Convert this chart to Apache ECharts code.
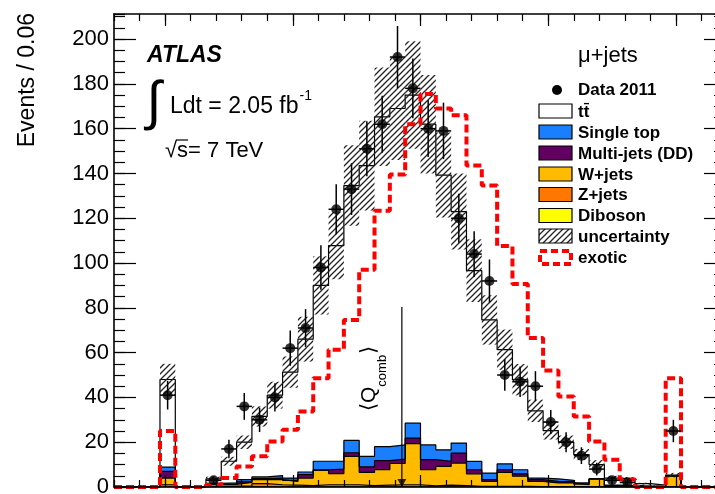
<!DOCTYPE html>
<html><head><meta charset="utf-8">
<script src="https://cdn.jsdelivr.net/npm/echarts@6/dist/echarts.min.js"></script>
<style>html,body{margin:0;padding:0;background:#fff}#c{width:715px;height:494px}</style>
</head><body><div id="c"></div>
<script>
// ---- axis / binning ----
const xMin = -1.2, xMax = 1.2, binWidth = 0.06, nBins = 40;
const yMin = 0, yMax = 211.2;
const yTickLabels = [0, 20, 40, 60, 80, 100, 120, 140, 160, 180, 200];
const xMajorTicks = [-1, -0.5, 0, 0.5, 1];
const yTitle = 'Events / 0.06';

// ---- data (events per bin, 40 bins from -1.2 to 1.2) ----
const data2011 = [0,0,0,41,0,0,3,17,36,30,40,62,71,98,124,133,151,162,192,178,160,159,120,104,92,50,47,45,29,20,14,8,3,2,0,0,25,0,0,0];
const ttbar     = [0,0,0,39.1,0,0,2.0,9.6,16.7,27,35.9,47.3,59.3,78.5,96.3,113.8,129.8,147.3,150.2,146.5,143.2,122.7,103.4,85.2,68.4,51,40.2,30,21.6,17,12.7,6.4,3.2,2.9,1.1,0.6,0.2,0,0,0];
const singleTop = [0,0,0,1.9,0,0,0.4,0.5,1.0,0.8,1.1,1.0,1.2,3.8,3.5,5.5,4.7,6.2,6.3,6.7,6.6,5.2,4.5,3.7,2.9,2.6,1.8,0.7,1.1,0.6,0.5,0,0.2,0.1,0.1,0,0.1,0,0,0];
const multiJets = [0,0,0,3,0,0,0.2,0.2,0.3,0.4,0.7,0.5,1.5,0.3,2,1.6,2.5,4,2,2.4,4.5,2.2,4.4,1.8,0.8,1.2,1.1,0.8,0.7,0.6,0.3,0,0.1,0.1,0,0,0.2,0,0,0];
const wJets     = [0,0,0,3,0,0,0.7,0.8,1.5,1.8,2.3,1.7,3.4,6.4,5,12.7,5.9,7,9.5,18.4,7.2,8.4,10.1,5.6,2.2,6.2,4.5,2.3,1.6,1.6,0.9,3.4,0.4,0.3,0.3,0.2,4.6,0,0,0];
const zJets     = [0,0,0,0.9,0,0,0.3,0.4,0.4,1.4,0.9,0.7,0.5,0.9,0.9,0.9,0.5,0.7,0.9,0.9,0.4,0.7,0.5,0.2,0.2,0.2,0.2,0.1,0.1,0.1,0.1,0.2,0.1,0.1,0,0,0.2,0,0,0];
const diboson   = [0,0,0,0.1,0,0,0,0,0.1,0.1,0.1,0.1,0.1,0.1,0.1,0.1,0.1,0.1,0.1,0.1,0.1,0.1,0.1,0.1,0.1,0.1,0.1,0.1,0.1,0.1,0,0,0,0,0,0,0,0,0,0];
const uncertainty = [0,0,0,7,0,0,1,2,3,4.5,6,7,10,13,15,18,20,22,23,24,22,19,17,14,11,9,7,5,4,3,2.5,2,1,1,0.4,0.2,1,0,0,0];
const exotic    = [0,0,0,25,0,0,1,4,9.2,13.7,20.3,25.6,33.7,48.6,61.3,74.6,97,123.4,139.5,162,175.5,169,166,143.5,134.6,107.6,90.6,66.5,52,40.4,31.5,20.3,12.2,3.3,0,0,48.6,0,0,0];
const meanQcomb = -0.073, meanLineTop = 80.4;

// ---- colours ----
const colTT = '#ffffff', colST = '#1a7fff', colMJ = '#620062', colW = '#ffbb00', colZ = '#ff7700', colDB = '#ffff00', colEx = '#ff0000';
const FONT = "'Liberation Sans', Arial, Helvetica, sans-serif";

// ---- helpers ----
const binLow = Array.from({length: nBins}, (_, i) => +(xMin + i * binWidth).toFixed(4));
const binHigh = binLow.map(v => +(v + binWidth).toFixed(4));
const binCenter = binLow.map(v => +(v + binWidth / 2).toFixed(4));
function cum(...arrs) { return binLow.map((_, i) => arrs.reduce((s, a) => s + a[i], 0)); }
const lvDB = cum(diboson);
const lvZ = cum(diboson, zJets);
const lvW = cum(diboson, zJets, wJets);
const lvMJ = cum(diboson, zJets, wJets, multiJets);
const lvST = cum(diboson, zJets, wJets, multiJets, singleTop);
const lvTot = cum(diboson, zJets, wJets, multiJets, singleTop, ttbar);
function stepData(vals) { const d = vals.map((v, i) => [binLow[i], v]); d.push([xMax, vals[vals.length - 1]]); return d; }

function makeHatch() {
  const s = 6, c = document.createElement('canvas'); c.width = s; c.height = s;
  const g = c.getContext('2d'); g.strokeStyle = '#222'; g.lineWidth = 1.3; g.lineCap = 'square';
  g.beginPath(); g.moveTo(-1, s + 1); g.lineTo(s + 1, -1);
  g.moveTo(-1, 1); g.lineTo(1, -1); g.moveTo(s - 1, s + 1); g.lineTo(s + 1, s - 1); g.stroke();
  return c;
}
const hatch = {image: makeHatch(), repeat: 'repeat'};
const mctx = document.createElement('canvas').getContext('2d');
function tw(txt, size, weight) { mctx.font = (weight || '') + ' ' + size + 'px ' + FONT; return mctx.measureText(txt).width; }

function stackSeries(name, vals, fill, z) {
  return {name, type: 'line', step: 'end', data: stepData(vals), showSymbol: false, symbol: 'none', z,
    lineStyle: {color: '#000', width: 1.2}, areaStyle: {color: fill, opacity: 1}, silent: true, xAxisIndex: 0, yAxisIndex: 0};
}

const axisLineStyle = {color: '#000', width: 1.6};
const tickStyle = {color: '#000', width: 1.2};
function xAx(pos, major) {
  return major ? {type: 'value', min: xMin, max: xMax, position: pos, axisLine: {show: false, onZero: false},
      axisTick: {show: true, inside: true, length: 12, customValues: xMajorTicks, lineStyle: tickStyle},
      axisLabel: {show: false}, splitLine: {show: false}, z: 20}
    : {type: 'value', min: xMin, max: xMax, interval: 0.1, position: pos, axisLine: {show: true, onZero: false, lineStyle: axisLineStyle},
      axisTick: {show: true, inside: true, length: 7, lineStyle: tickStyle}, axisLabel: {show: false}, splitLine: {show: false}, z: 20};
}
function yAx(pos, major, labels) {
  const right = pos === 'right';
  return major ? {type: 'value', min: yMin, max: yMax, position: pos, offset: right ? -11 : 0,
      axisLine: {show: !right, onZero: false, lineStyle: axisLineStyle},
      axisTick: {show: true, inside: true, length: right ? 12 : 22, customValues: yTickLabels, lineStyle: tickStyle},
      axisLabel: labels ? {show: true, customValues: yTickLabels, color: '#000', fontSize: 22, fontFamily: FONT, margin: 5} : {show: false},
      splitLine: {show: false}, z: 20}
    : {type: 'value', min: yMin, max: yMax, interval: 5, position: pos, offset: right ? -11 : 0, axisLine: {show: false, onZero: false},
      axisTick: {show: true, inside: true, length: right ? 2 : 11, lineStyle: tickStyle}, axisLabel: {show: false}, splitLine: {show: false}, z: 20};
}

// ---- series ----
const series = [
  stackSeries('tt', lvTot, colTT, 1),
  stackSeries('Single top', lvST, colST, 1),
  stackSeries('Multi-jets (DD)', lvMJ, colMJ, 1),
  stackSeries('W+jets', lvW, colW, 1),
  stackSeries('Z+jets', lvZ, colZ, 1),
  stackSeries('Diboson', lvDB, colDB, 1),
  {name: 'uncertainty', type: 'custom', silent: true, z: 3,
    data: binLow.map((lo, i) => [lo, binHigh[i], Math.max(0, lvTot[i] - uncertainty[i]), lvTot[i] + uncertainty[i]]).filter((d, i) => uncertainty[i] > 0),
    encode: {x: [0, 1], y: [2, 3]},
    renderItem(params, api) {
      const p1 = api.coord([api.value(0), api.value(3)]), p2 = api.coord([api.value(1), api.value(2)]);
      return {type: 'rect', shape: {x: p1[0], y: p1[1], width: p2[0] - p1[0], height: p2[1] - p1[1]}, style: {fill: hatch}};
    }},
  {name: 'exotic', type: 'line', step: 'end', data: stepData(exotic), showSymbol: false, symbol: 'none', silent: true, z: 4,
    lineStyle: {color: colEx, width: 4, type: [8, 4]}},
  {name: 'meanQ', type: 'line', data: [[meanQcomb, 0], [meanQcomb, meanLineTop]], showSymbol: false, symbol: 'none', silent: true, z: 5,
    lineStyle: {color: '#000', width: 1.2}},
  {name: 'meanQmarker', type: 'scatter', data: [[meanQcomb, 0]], symbol: 'triangle', symbolRotate: 180, symbolSize: [9, 8], z: 5,
    symbolOffset: [0, -4], itemStyle: {color: '#000'}, silent: true, clip: false},
  {name: 'errors', type: 'custom', silent: true, z: 6,
    data: binCenter.map((c, i) => [c, data2011[i], binLow[i], binHigh[i], Math.sqrt(data2011[i])]).filter((d, i) => data2011[i] > 0),
    encode: {x: 0, y: 1},
    renderItem(params, api) {
      const xc = api.value(0), n = api.value(1), e = api.value(4);
      const pT = api.coord([xc, n + e]), pB = api.coord([xc, Math.max(0, n - e)]);
      const pL = api.coord([api.value(2), n]), pR = api.coord([api.value(3), n]);
      return {type: 'group', children: [
        {type: 'line', shape: {x1: pT[0], y1: pT[1], x2: pB[0], y2: pB[1]}, style: {stroke: '#000', lineWidth: 1.5}},
        {type: 'line', shape: {x1: pL[0], y1: pL[1], x2: pR[0], y2: pR[1]}, style: {stroke: '#000', lineWidth: 1.5}}]};
    }},
  {name: 'Data 2011', type: 'scatter', z: 7, data: binCenter.map((c, i) => [c, data2011[i]]).filter(d => d[1] > 0),
    symbol: 'circle', symbolSize: 10, itemStyle: {color: '#000'}, silent: true}
];

// ---- graphic: annotations & legend ----
const g = [];
function txt(x, y, text, size, opts) {
  g.push(Object.assign({type: 'text', x, y, silent: true, z: 50,
    style: Object.assign({text, fontSize: size, fontFamily: FONT, fill: '#000', align: 'left', verticalAlign: 'middle'}, (opts && opts.style) || {})},
    opts && opts.el || {}));
}
// y title
g.push({type: 'text', x: 28, y: 13, rotation: Math.PI / 2, silent: true, z: 50,
  style: {text: yTitle, fontSize: 23, fontFamily: FONT, fill: '#000', align: 'right', verticalAlign: 'middle'}});
// ATLAS block
txt(147, 56, 'ATLAS', 23, {style: {fontWeight: 'bold', fontStyle: 'italic'}});
txt(154, 104, '\u222B', 54, {style: {align: 'center'}});
const ldt = 'Ldt = 2.05 fb';
txt(170, 107, ldt, 23);
txt(170 + tw(ldt, 23) + 1, 96, '-1', 14);
const sq = '\u221A';
txt(165, 151, sq + 's= 7 TeV', 22);
{ const x0 = 165 + tw(sq, 22) - 1, w = tw('s', 22) + 1;
  g.push({type: 'line', silent: true, z: 50, shape: {x1: x0, y1: 140, x2: x0 + w, y2: 140}, style: {stroke: '#000', lineWidth: 1.2}}); }
// <Q_comb> label (rotated)
{ const w1 = tw('\u27E8Q', 21), w2 = tw('comb', 13);
  g.push({type: 'group', x: 369, y: 411, rotation: Math.PI / 2, silent: true, z: 50, children: [
    {type: 'text', x: 0, y: 0, z: 50, style: {text: '\u27E8Q', fontSize: 21, fontFamily: FONT, fill: '#000', verticalAlign: 'middle'}},
    {type: 'text', x: w1, y: 13, z: 50, style: {text: 'comb', fontSize: 13, fontFamily: FONT, fill: '#000', verticalAlign: 'middle'}},
    {type: 'text', x: w1 + w2 + 1, y: 0, z: 50, style: {text: '\u27E9', fontSize: 21, fontFamily: FONT, fill: '#000', verticalAlign: 'middle'}}]}); }
// legend
txt(578, 56, '\u03BC+jets', 22);
g.push({type: 'circle', silent: true, z: 50, shape: {cx: 557, cy: 90, r: 5}, style: {fill: '#000'}});
txt(578, 90, 'Data 2011', 17, {style: {fontWeight: 'bold'}});
const legRows = [
  ['tt\u0304', colTT, 111], ['Single top', colST, 132], ['Multi-jets (DD)', colMJ, 153], ['W+jets', colW, 174],
  ['Z+jets', colZ, 194.5], ['Diboson', colDB, 215.5]];
legRows.forEach(r => {
  g.push({type: 'rect', silent: true, z: 50, shape: {x: 539, y: r[2] - 7, width: 33, height: 14}, style: {fill: r[1], stroke: '#000', lineWidth: 1.2}});
  txt(578, r[2] + 1, r[0], 17, {style: {fontWeight: 'bold'}});
});
g.push({type: 'rect', silent: true, z: 50, shape: {x: 539, y: 229, width: 33, height: 14}, style: {fill: hatch, stroke: '#000', lineWidth: 1.2}});
txt(578, 237, 'uncertainty', 17, {style: {fontWeight: 'bold'}});
g.push({type: 'rect', silent: true, z: 50, shape: {x: 540, y: 251, width: 31, height: 13}, style: {fill: 'none', stroke: colEx, lineWidth: 4, lineDash: [7, 4]}});
txt(578, 258, 'exotic', 17, {style: {fontWeight: 'bold'}});

const chart = echarts.init(document.getElementById('c'), null, {renderer: 'canvas', width: 715, height: 494});
chart.setOption({
  animation: false,
  backgroundColor: '#fff',
  grid: {left: 114, right: -12, top: 14, bottom: 7, containLabel: false, outerBoundsMode: 'none'},
  xAxis: [xAx('bottom', false), xAx('bottom', true), xAx('top', false), xAx('top', true)],
  yAxis: [yAx('left', true, true), yAx('left', false), yAx('right', true, false), yAx('right', false)],
  series,
  graphic: g
});
</script></body></html>
